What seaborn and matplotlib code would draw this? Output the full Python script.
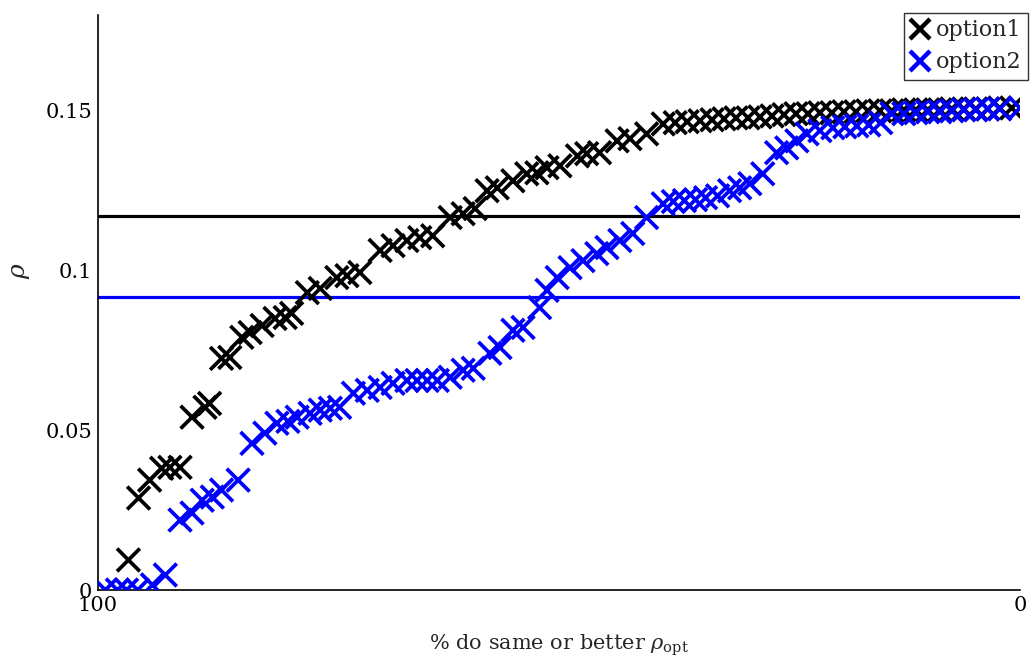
import numpy as np
import pandas as pd
import matplotlib
matplotlib.use("Agg")
import matplotlib.pyplot as plt
from matplotlib.lines import Line2D
import seaborn as sns

# values
opt1_pct = [96.7, 95.6, 94.4, 93.1, 92.2, 91.1, 89.8, 88.4, 87.9, 86.6, 85.7, 84.4,
            83.5, 82.2, 80.8, 79.7, 79.0, 77.3, 75.9, 74.1, 73.0, 71.6, 69.4, 68.0,
            66.5, 65.1, 63.7, 61.8, 60.4, 59.1, 57.8, 56.7, 55.0, 53.5, 52.4, 51.3,
            49.9, 48.0, 47.0, 45.6, 43.7, 42.3, 40.5, 38.7, 37.4, 36.1, 34.7, 33.4,
            32.1, 30.8, 29.5, 28.2, 26.9, 25.6, 24.3, 23.0, 21.7, 20.4, 19.1, 17.8,
            16.5, 15.2, 13.9, 12.6, 11.3, 10.0, 8.7, 7.4, 6.1, 4.8, 3.5, 2.2, 0.9]
opt1_rho = [0.0094, 0.0288, 0.0344, 0.0381, 0.0384, 0.0384, 0.0541, 0.0572, 0.0584,
            0.0725, 0.0728, 0.0791, 0.0806, 0.0828, 0.0850, 0.0853, 0.0866, 0.0931,
            0.0944, 0.0978, 0.0984, 0.0994, 0.1063, 0.1078, 0.1094, 0.1103, 0.1109,
            0.1166, 0.1178, 0.1194, 0.1250, 0.1259, 0.1281, 0.1303, 0.1306, 0.1322,
            0.1328, 0.1359, 0.1366, 0.1369, 0.1406, 0.1413, 0.1428, 0.1459, 0.1463,
            0.1466, 0.1469, 0.1472, 0.1475, 0.1478, 0.1478, 0.1481, 0.1484, 0.1488,
            0.1491, 0.1491, 0.1494, 0.1494, 0.1497, 0.1497, 0.1500, 0.1500, 0.1500,
            0.1503, 0.1503, 0.1503, 0.1503, 0.1506, 0.1506, 0.1506, 0.1506, 0.1509,
            0.1509]

opt2_pct = [99.2, 97.9, 96.9, 95.7, 94.1, 92.7, 91.1, 89.8, 88.7, 87.6, 86.6, 84.8,
            83.3, 81.9, 80.6, 79.4, 78.4, 77.0, 75.9, 74.8, 73.8, 72.3, 70.8, 69.4,
            68.0, 66.5, 65.4, 64.3, 63.2, 61.8, 60.4, 59.3, 57.5, 56.4, 55.0, 53.9,
            52.1, 51.3, 50.2, 48.8, 47.4, 45.9, 44.8, 43.4, 42.0, 40.5, 38.7, 37.6,
            36.4, 35.2, 34.1, 32.8, 31.5, 30.4, 29.3, 27.9, 26.4, 25.3, 24.2, 23.1,
            21.7, 20.3, 19.0, 17.7, 16.4, 15.1, 13.9, 12.6, 11.3, 10.0, 8.7, 7.4,
            6.1, 4.8, 3.5, 2.2, 0.0]
opt2_rho = [0.0, 0.0, 0.0, 0.0, 0.0016, 0.0047, 0.0219, 0.0241, 0.0281, 0.0291,
            0.0313, 0.0344, 0.0459, 0.0491, 0.0522, 0.0528, 0.0541, 0.0553, 0.0563,
            0.0569, 0.0572, 0.0616, 0.0625, 0.0634, 0.0647, 0.0656, 0.0656, 0.0656,
            0.0656, 0.0666, 0.0688, 0.0694, 0.0741, 0.0759, 0.0813, 0.0822, 0.0884,
            0.0938, 0.0978, 0.1009, 0.1031, 0.1053, 0.1072, 0.1094, 0.1116, 0.1166,
            0.1209, 0.1216, 0.1219, 0.1222, 0.1228, 0.1234, 0.1250, 0.1259, 0.1272,
            0.1303, 0.1369, 0.1384, 0.1406, 0.1428, 0.1438, 0.1447, 0.1450, 0.1453,
            0.1456, 0.1463, 0.1491, 0.1491, 0.1494, 0.1497, 0.1497, 0.1500, 0.1503,
            0.1503, 0.1506, 0.1506, 0.1509]

ref_lines = {"option1": 0.1172, "option2": 0.0916}
colors = {"option1": "black", "option2": "#0000ff"}
yticks = [0, 0.05, 0.1, 0.15]
ytick_labels = ["0", "0.05", "0.1", "0.15"]
xticks = [100, 0]
xtick_labels = ["100", "0"]

sns.set_theme(style="white")
plt.rcParams["font.family"] = ["DejaVu Serif"]
plt.rcParams["mathtext.fontset"] = "dejavuserif"

fig = plt.figure(figsize=(10.32, 6.57), dpi=100)
ax = fig.add_axes([98 / 1032, 67 / 657, 922 / 1032, 575 / 657])

# reference levels sit under the markers
for name, level in ref_lines.items():
    ax.axhline(level, color=colors[name], lw=2.3, zorder=1)

df = pd.concat([
    pd.DataFrame({"pct": opt1_pct, "rho": opt1_rho, "series": "option1"}),
    pd.DataFrame({"pct": opt2_pct, "rho": opt2_rho, "series": "option2"}),
])
sns.scatterplot(data=df, x="pct", y="rho", hue="series", palette=colors,
                marker="x", s=270, linewidth=2.7, ax=ax, zorder=3, legend=False)

ax.set_xlim(100, 0)
ax.set_ylim(0, 0.18)
ax.set_yticks(yticks)
ax.set_yticklabels(ytick_labels)
ax.set_xticks(xticks)
ax.set_xticklabels(xtick_labels)
ax.tick_params(axis="both", direction="in", length=8, width=1,
               labelsize=15, labelcolor="black", color="gray", pad=4)
ax.set_xlabel(r"% do same or better $\rho_{\mathrm{opt}}$", fontsize=15, labelpad=13)
ax.set_ylabel(r"$\rho$", fontsize=18)
ax.yaxis.set_label_coords(-0.072, 0.555)

for side in ["top", "right"]:
    ax.spines[side].set_visible(False)
for side in ["left", "bottom"]:
    ax.spines[side].set_color("black")
    ax.spines[side].set_linewidth(1.2)

handles = [Line2D([], [], ls="", marker="x", color=colors[n], markersize=15,
                  markeredgewidth=3.2) for n in colors]
leg = ax.legend(handles, list(colors), loc="upper right", bbox_to_anchor=(1.009, 1.004),
                fontsize=16, frameon=True, fancybox=False, edgecolor="black",
                handlelength=0.9, handletextpad=0.25, borderpad=0.3, labelspacing=0.45,
                borderaxespad=0)
leg.get_frame().set_linewidth(1.0)

fig.savefig("out.png", dpi=100)
